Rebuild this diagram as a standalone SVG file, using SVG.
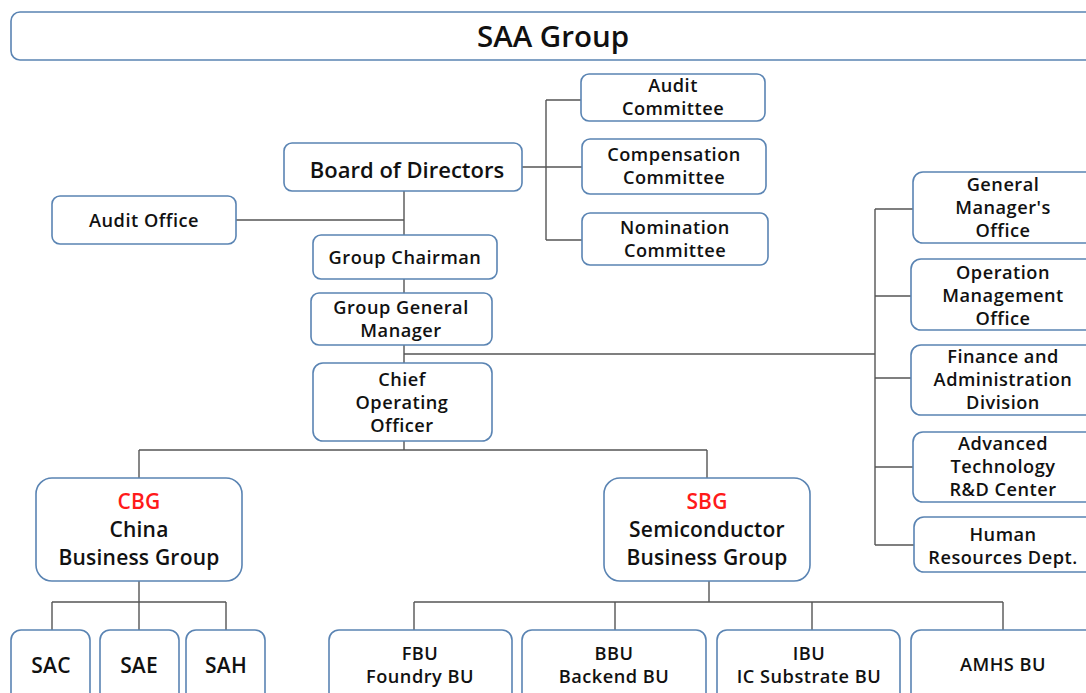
<svg xmlns="http://www.w3.org/2000/svg" width="1086" height="693" viewBox="0 0 1086 693">
<style>
.box{fill:#fff;stroke:#5a84b3;stroke-width:1.6}
.t{font-family:"Open Sans","Noto Sans",sans-serif;font-weight:600;font-size:18.2px;letter-spacing:0.5px;fill:#111;text-anchor:middle}
.l{font-size:21px;letter-spacing:0.2px}
.red{fill:#ff1a1a}
.c{fill:none;stroke:#555;stroke-width:1.4}
</style>
<rect width="1086" height="693" fill="#fff"/>
<g id="connectors" class="c">
<path d="M522 167H546M546 100V240M546 100H581M546 167H582M546 240H582"/>
<path d="M404 191V235M236 220H404M404 279V293M404 345V363M404 354H875"/>
<path d="M875 209V545M875 209H913M875 296H911M875 378H911M875 467H913M875 545H914"/>
<path d="M404 441V450M139 450H707M139 450V478M707 450V478"/>
<path d="M139 581V602M52 602H226M52 602V630M139 602V630M226 602V630"/>
<path d="M709 581V602M414 602H1003M414 602V630M615 602V630M812 602V630M1003 602V630"/>
</g>
<g id="saa"><rect class="box" x="11" y="12" width="1090" height="48" rx="9"/><text class="t" x="553" y="47" style="font-size:29.5px;letter-spacing:0">SAA Group</text></g>
<g id="board"><rect class="box" x="284" y="143" width="238" height="48" rx="8"/><text class="t" x="407" y="178" style="font-size:22px;letter-spacing:0">Board of Directors</text></g>
<g id="audit-committee"><rect class="box" x="581" y="74" width="184" height="47" rx="8"/><text class="t" x="673" y="92">Audit</text><text class="t" x="673" y="115">Committee</text></g>
<g id="compensation"><rect class="box" x="582" y="139" width="184" height="55" rx="8"/><text class="t" x="674" y="161">Compensation</text><text class="t" x="674" y="184">Committee</text></g>
<g id="nomination"><rect class="box" x="582" y="213" width="186" height="52" rx="8"/><text class="t" x="675" y="234">Nomination</text><text class="t" x="675" y="257">Committee</text></g>
<g id="audit-office"><rect class="box" x="52" y="196" width="184" height="48" rx="8"/><text class="t" x="144" y="227">Audit Office</text></g>
<g id="chairman"><rect class="box" x="313" y="235" width="184" height="44" rx="8"/><text class="t" x="405" y="264">Group Chairman</text></g>
<g id="ggm"><rect class="box" x="311" y="293" width="181" height="52" rx="8"/><text class="t" x="401" y="314">Group General</text><text class="t" x="401" y="337">Manager</text></g>
<g id="coo"><rect class="box" x="313" y="363" width="179" height="78" rx="10"/><text class="t" x="402" y="386">Chief</text><text class="t" x="402" y="409">Operating</text><text class="t" x="402" y="432">Officer</text></g>
<g id="gm-office"><rect class="box" x="913" y="172" width="190" height="71" rx="10"/><text class="t" x="1003" y="191">General</text><text class="t" x="1003" y="214">Manager's</text><text class="t" x="1003" y="237">Office</text></g>
<g id="omo"><rect class="box" x="911" y="259" width="190" height="71" rx="10"/><text class="t" x="1003" y="279">Operation</text><text class="t" x="1003" y="302">Management</text><text class="t" x="1003" y="325">Office</text></g>
<g id="finance"><rect class="box" x="911" y="345" width="190" height="70" rx="10"/><text class="t" x="1003" y="363">Finance and</text><text class="t" x="1003" y="386">Administration</text><text class="t" x="1003" y="409">Division</text></g>
<g id="advanced"><rect class="box" x="913" y="432" width="190" height="70" rx="10"/><text class="t" x="1003" y="450">Advanced</text><text class="t" x="1003" y="473">Technology</text><text class="t" x="1003" y="496">R&amp;D Center</text></g>
<g id="hr"><rect class="box" x="914" y="517" width="190" height="55" rx="10"/><text class="t" x="1003" y="541">Human</text><text class="t" x="1003" y="564">Resources Dept.</text></g>
<g id="cbg"><rect class="box" x="36" y="478" width="206" height="103" rx="16"/><text class="t l red" x="139" y="509">CBG</text><text class="t l" x="139" y="537">China</text><text class="t l" x="139" y="565">Business Group</text></g>
<g id="sbg"><rect class="box" x="604" y="478" width="206" height="103" rx="16"/><text class="t l red" x="707" y="509">SBG</text><text class="t l" x="707" y="537">Semiconductor</text><text class="t l" x="707" y="565">Business Group</text></g>
<g id="sac"><rect class="box" x="11" y="630" width="79" height="75" rx="10"/><text class="t l" x="51" y="673">SAC</text></g>
<g id="sae"><rect class="box" x="100" y="630" width="79" height="75" rx="10"/><text class="t l" x="139" y="673">SAE</text></g>
<g id="sah"><rect class="box" x="186" y="630" width="79" height="75" rx="10"/><text class="t l" x="226" y="673">SAH</text></g>
<g id="fbu"><rect class="box" x="329" y="630" width="183" height="75" rx="10"/><text class="t" x="420" y="660">FBU</text><text class="t" x="420" y="683">Foundry BU</text></g>
<g id="bbu"><rect class="box" x="522" y="630" width="184" height="75" rx="10"/><text class="t" x="614" y="660">BBU</text><text class="t" x="614" y="683">Backend BU</text></g>
<g id="ibu"><rect class="box" x="717" y="630" width="183" height="75" rx="10"/><text class="t" x="809" y="660">IBU</text><text class="t" x="809" y="683">IC Substrate BU</text></g>
<g id="amhs"><rect class="box" x="911" y="630" width="190" height="75" rx="10"/><text class="t" x="1003" y="671">AMHS BU</text></g>
</svg>
